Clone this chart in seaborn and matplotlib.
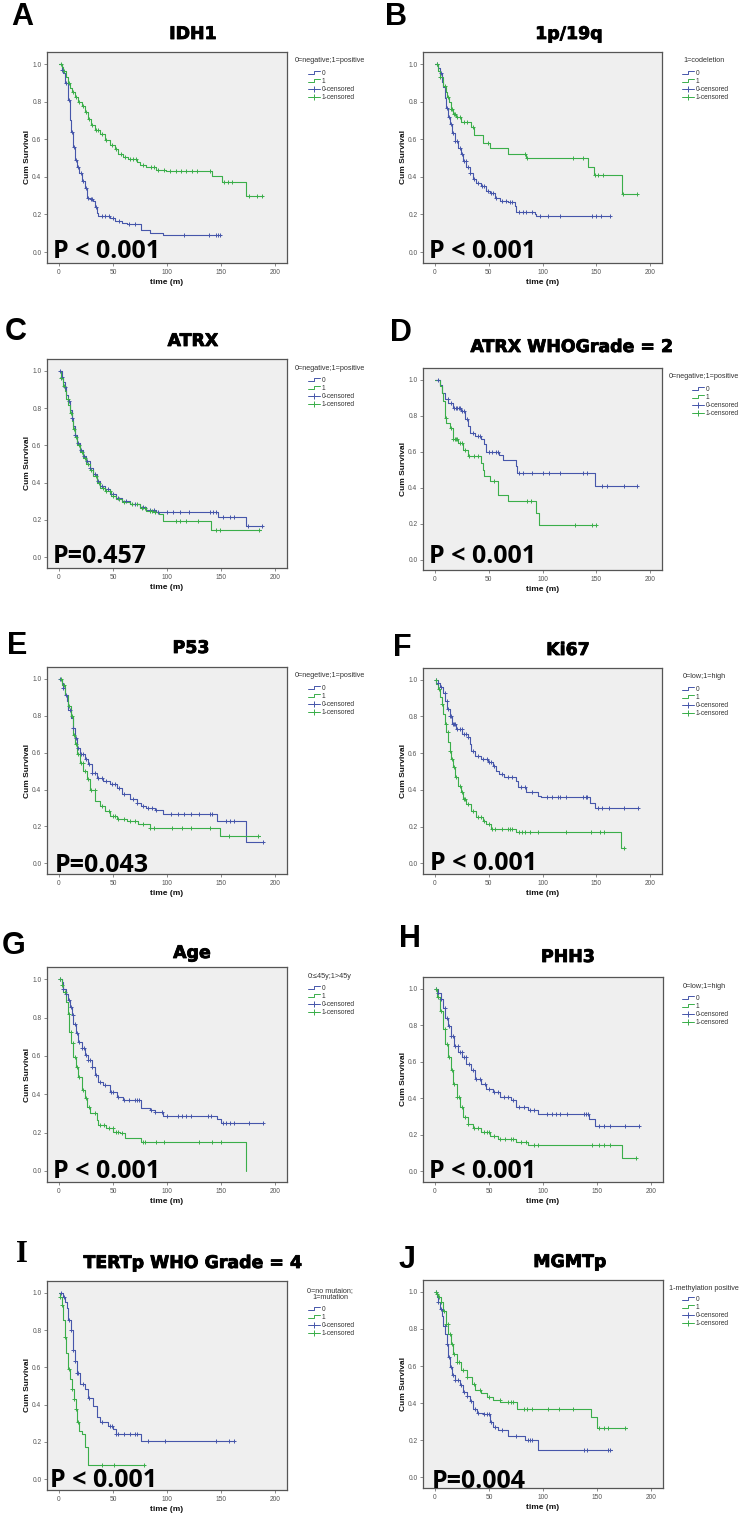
import numpy as np
import matplotlib.pyplot as plt
import matplotlib.patheffects as pe
import seaborn as sns
from matplotlib.lines import Line2D
from matplotlib.legend_handler import HandlerBase

sns.set_theme(style='white')
plt.rcParams['font.family'] = ['Liberation Sans', 'DejaVu Sans']

W, H = 748, 1524
BLUE = '#4656AA'
GREEN = '#3AAE4A'

# ---- survival curves: step times (months), survival after step, censor times ----
# A  IDH1
idh1_t0 = [0, 2.5, 4, 6, 8, 10, 11, 13, 15, 17, 19, 21, 24, 26, 29, 32, 33, 35, 36.5, 47, 52, 58, 63, 76, 84, 96.5, 150]
idh1_s0 = [1.0, 0.97, 0.95, 0.90, 0.81, 0.70, 0.64, 0.56, 0.49, 0.45, 0.42, 0.38, 0.34, 0.29, 0.28, 0.27, 0.24, 0.21, 0.19, 0.18, 0.165, 0.155, 0.147, 0.115, 0.103, 0.09, 0.09]
idh1_c0 = [3, 7, 9, 12, 14, 16, 18, 20, 22, 25, 27, 30, 31, 34, 40, 43, 46, 50, 56, 65, 70, 116, 139, 145, 147, 149]
idh1_t1 = [0, 2.5, 4, 7, 8.6, 10, 12, 15, 18, 21, 24, 27, 30, 33, 38, 42.5, 47, 52, 55, 59.5, 64, 72, 75, 81, 90, 99.5, 142, 150.5, 173.5, 189]
idh1_s1 = [1.0, 0.985, 0.965, 0.93, 0.90, 0.87, 0.85, 0.826, 0.80, 0.776, 0.746, 0.71, 0.675, 0.648, 0.63, 0.595, 0.568, 0.55, 0.524, 0.506, 0.497, 0.48, 0.462, 0.453, 0.435, 0.43, 0.405, 0.373, 0.30, 0.30]
idh1_c1 = [2, 5, 9, 13, 16, 19, 22, 25, 28, 31, 34, 36, 40, 44, 49, 53, 57, 61, 66, 69, 71, 78, 85, 88, 92, 97, 103, 108, 113, 118, 123, 128, 140, 153, 156, 160, 176, 183, 188]

# B  1p/19q
codel_t0 = [0, 3, 4.6, 6.2, 7.7, 9.3, 10.8, 12.3, 14, 16, 18.5, 21.6, 24, 26.2, 29.3, 32.4, 35.5, 38.6, 43.2, 47.8, 51, 55.6, 60.2, 68, 74, 75.6, 92.6, 94, 163]
codel_s0 = [1.0, 0.98, 0.952, 0.907, 0.876, 0.82, 0.767, 0.72, 0.68, 0.635, 0.59, 0.555, 0.52, 0.485, 0.45, 0.42, 0.39, 0.365, 0.353, 0.326, 0.312, 0.29, 0.273, 0.265, 0.247, 0.212, 0.203, 0.194, 0.194]
codel_c0 = [2, 6, 11, 13, 15, 17, 19, 21, 23, 25, 27, 29, 31, 33, 36, 40, 44, 46, 49, 52, 54, 57, 62, 66, 70, 72, 78, 82, 85, 90, 98, 105, 116, 146, 150, 154, 163]
codel_t1 = [0, 2.5, 4.6, 7.7, 10, 11.7, 13, 14.8, 17, 20, 24, 34, 36.4, 44.8, 51, 68, 85, 142, 148, 173.5, 188]
codel_s1 = [1.0, 0.965, 0.93, 0.885, 0.85, 0.824, 0.797, 0.762, 0.735, 0.718, 0.69, 0.665, 0.62, 0.58, 0.555, 0.52, 0.50, 0.45, 0.41, 0.31, 0.31]
codel_c1 = [2, 5, 9, 12, 15, 16, 18, 19, 21, 23, 27, 30, 35, 49, 84, 86, 128, 138, 149, 152, 156, 175, 188]

# C  ATRX
atrx_t0 = [0, 2.5, 4, 5.5, 7, 8.6, 10, 11.7, 13.2, 14.8, 17, 19.4, 22.5, 25.5, 28.6, 31.7, 34.8, 37.8, 42.5, 47, 53, 58, 65.5, 75, 81, 90, 147, 173, 188.6]
atrx_s0 = [1.0, 0.97, 0.943, 0.916, 0.872, 0.836, 0.79, 0.747, 0.703, 0.658, 0.614, 0.578, 0.542, 0.516, 0.48, 0.445, 0.41, 0.38, 0.365, 0.338, 0.32, 0.302, 0.288, 0.267, 0.253, 0.245, 0.218, 0.165, 0.165]
atrx_c0 = [1, 3, 6, 9, 12, 15, 18, 20, 23, 26, 29, 33, 36, 40, 45, 50, 55, 62, 70, 78, 84, 88, 92, 100, 106, 112, 120, 140, 143, 145, 152, 158, 162, 175, 188]
atrx_t1 = [0, 2, 4, 5.5, 7, 8.6, 10, 11.7, 13.2, 14.8, 17, 19.4, 22.5, 25.5, 28.6, 31.7, 35, 38, 43, 48, 53, 58, 66, 75, 81, 87, 93, 96, 141, 187]
atrx_s1 = [1.0, 0.96, 0.92, 0.89, 0.85, 0.815, 0.775, 0.73, 0.69, 0.645, 0.60, 0.565, 0.53, 0.50, 0.47, 0.435, 0.40, 0.37, 0.355, 0.33, 0.315, 0.298, 0.283, 0.262, 0.25, 0.24, 0.23, 0.196, 0.146, 0.146]
atrx_c1 = [2, 5, 8, 11, 14, 16, 19, 21, 24, 27, 30, 34, 37, 41, 44, 47, 50, 56, 60, 68, 72, 77, 80, 84, 86, 89, 108, 112, 118, 129, 145, 149, 185]

# D  ATRX, WHO grade 2
atrx2_t0 = [0, 4.6, 6.2, 9.2, 12.3, 17, 24.6, 27.7, 30.8, 32.3, 37, 43, 46, 47.7, 60, 63, 75, 76, 149, 188]
atrx2_s0 = [1.0, 0.972, 0.926, 0.89, 0.87, 0.843, 0.824, 0.778, 0.74, 0.704, 0.685, 0.667, 0.64, 0.60, 0.583, 0.555, 0.52, 0.48, 0.41, 0.41]
atrx2_c0 = [3, 12, 15, 18, 20, 21, 22, 23, 25, 27, 30, 35, 40, 42, 50, 53, 57, 59, 78, 82, 90, 100, 106, 116, 138, 141, 155, 160, 176, 188]
atrx2_t1 = [0, 4.6, 6.2, 7.7, 9.2, 10.8, 13.9, 17, 21.5, 26, 30.8, 43, 44.6, 46, 50.8, 58.5, 67.7, 93.8, 97, 150]
atrx2_s1 = [1.0, 0.963, 0.926, 0.88, 0.787, 0.76, 0.73, 0.667, 0.65, 0.61, 0.575, 0.537, 0.50, 0.463, 0.435, 0.36, 0.324, 0.26, 0.194, 0.194]
atrx2_c1 = [10, 15, 17, 19, 20, 21, 23, 25, 28, 32, 36, 40, 55, 86, 89, 130, 146, 150]

# E  P53
p53_t0 = [0, 2.5, 4, 5.5, 7.1, 8.6, 10.8, 12.6, 14.8, 17, 19.4, 24, 27, 30.2, 34.8, 41, 47, 53.3, 58, 65.6, 71.8, 76.4, 81, 88.8, 96.5, 145.8, 173.5, 189]
p53_s0 = [1.0, 0.977, 0.95, 0.914, 0.878, 0.833, 0.788, 0.734, 0.68, 0.626, 0.59, 0.563, 0.536, 0.491, 0.464, 0.446, 0.428, 0.41, 0.374, 0.347, 0.329, 0.31, 0.30, 0.288, 0.266, 0.23, 0.117, 0.117]
p53_c0 = [1, 4, 7, 10, 13, 16, 18, 20, 22, 25, 28, 31, 33, 36, 40, 44, 49, 52, 56, 60, 69, 72, 78, 82, 86, 90, 104, 110, 116, 122, 130, 140, 142, 155, 158, 162, 189]
p53_t1 = [0, 2.5, 5.5, 8.6, 10.8, 12.6, 14.8, 16.3, 19.4, 22.5, 25.6, 28.7, 33.3, 37.9, 42.5, 47, 53.3, 62.6, 73.3, 84, 148.8, 185.8]
p53_s1 = [1.0, 0.968, 0.914, 0.85, 0.797, 0.698, 0.644, 0.59, 0.545, 0.50, 0.455, 0.40, 0.338, 0.311, 0.284, 0.257, 0.24, 0.23, 0.212, 0.19, 0.146, 0.146]
p53_c1 = [2, 5, 9, 12, 14, 16, 18, 20, 22, 24, 27, 30, 33, 40, 46, 50, 52, 55, 60, 66, 70, 78, 84, 88, 105, 114, 122, 140, 157, 184]

# F  Ki67
ki67_t0 = [0, 3, 4.6, 7.7, 9.8, 11.7, 13.8, 16, 20, 25.2, 30.8, 32.3, 33.8, 37, 43, 49.2, 53.8, 56.9, 60, 64.6, 75.4, 77, 84.6, 95.4, 98.5, 144, 149, 189]
ki67_s0 = [1.0, 0.985, 0.958, 0.93, 0.886, 0.84, 0.804, 0.76, 0.73, 0.704, 0.686, 0.65, 0.613, 0.586, 0.568, 0.55, 0.53, 0.504, 0.486, 0.468, 0.45, 0.414, 0.387, 0.369, 0.36, 0.33, 0.30, 0.30]
ki67_c0 = [1, 3, 6, 9, 11, 12, 14, 15, 17, 18, 19, 21, 23, 25, 27, 29, 31, 35, 40, 45, 48, 50, 52, 55, 62, 68, 72, 80, 84, 90, 104, 109, 114, 116, 122, 138, 140, 141, 152, 155, 162, 176, 189]
ki67_t1 = [0, 1.5, 3, 4.6, 6.2, 7.7, 9.2, 10.8, 12.3, 13.8, 15.4, 17, 19, 21.5, 24, 26, 29.2, 33.8, 38.5, 44.6, 47.7, 52, 75.4, 173, 177]
ki67_s1 = [1.0, 0.976, 0.95, 0.904, 0.868, 0.813, 0.759, 0.714, 0.659, 0.613, 0.568, 0.523, 0.468, 0.423, 0.387, 0.35, 0.323, 0.287, 0.25, 0.232, 0.214, 0.187, 0.172, 0.082, 0.082]
ki67_c1 = [1, 4, 7, 10, 12, 14, 16, 18, 20, 23, 25, 27, 28, 31, 35, 40, 43, 46, 50, 53, 56, 62, 68, 70, 72, 78, 81, 84, 88, 96, 122, 145, 153, 157, 176]

# G  Age
age_t0 = [0, 2.5, 4, 6.2, 8, 10.2, 11.7, 13.3, 15.4, 17.9, 21, 24, 27, 30.2, 33.3, 36.4, 41, 47, 53.3, 59.5, 76.4, 84, 88.8, 96.5, 145.8, 149.8, 189]
age_s0 = [1.0, 0.986, 0.951, 0.925, 0.89, 0.856, 0.812, 0.769, 0.717, 0.674, 0.64, 0.604, 0.578, 0.543, 0.50, 0.465, 0.448, 0.413, 0.387, 0.37, 0.326, 0.318, 0.306, 0.288, 0.27, 0.248, 0.248]
age_c0 = [1, 4, 7, 9, 11, 13, 15, 17, 19, 21, 23, 25, 27, 29, 31, 34, 38, 43, 48, 50, 55, 60, 65, 70, 72, 74, 85, 89, 95, 100, 110, 114, 118, 122, 138, 141, 152, 155, 158, 162, 176, 189]
age_t1 = [0, 2.5, 4, 6.2, 8, 9.6, 11.1, 13.3, 15.4, 17.9, 21, 24, 26.2, 28.7, 34.8, 36.4, 44, 50.2, 56.4, 61, 76.4, 173.5]
age_s1 = [1.0, 0.969, 0.934, 0.882, 0.821, 0.726, 0.665, 0.595, 0.543, 0.491, 0.422, 0.378, 0.335, 0.30, 0.266, 0.24, 0.222, 0.205, 0.196, 0.17, 0.149, 0.0]
age_c1 = [1, 3, 6, 9, 11, 13, 15, 17, 19, 22, 25, 28, 33, 38, 42, 46, 50, 53, 55, 58, 78, 80, 90, 97, 130, 142, 150]

# H  PHH3
phh3_t0 = [0, 3, 5.5, 7.7, 9.8, 12.3, 14.8, 17.8, 21.5, 25.2, 29.2, 33.2, 37, 43, 47.7, 53.8, 60, 70.8, 75.4, 86, 95.4, 143, 148, 189]
phh3_s0 = [1.0, 0.978, 0.942, 0.897, 0.842, 0.797, 0.743, 0.688, 0.652, 0.625, 0.589, 0.553, 0.507, 0.48, 0.453, 0.435, 0.408, 0.39, 0.353, 0.335, 0.313, 0.286, 0.248, 0.248]
phh3_c0 = [1, 3, 6, 9, 11, 13, 15, 17, 19, 21, 23, 25, 27, 29, 32, 35, 38, 42, 46, 50, 55, 58, 64, 68, 72, 78, 82, 88, 92, 104, 108, 112, 116, 122, 138, 140, 142, 152, 156, 162, 176, 189]
phh3_t1 = [0, 1.5, 4.6, 7.7, 9.8, 12.3, 14.8, 17, 20, 23, 26, 30.8, 35.4, 43, 50.8, 58.5, 75.4, 86, 173, 186]
phh3_s1 = [1.0, 0.955, 0.879, 0.779, 0.697, 0.625, 0.553, 0.48, 0.408, 0.353, 0.30, 0.262, 0.235, 0.217, 0.194, 0.176, 0.163, 0.145, 0.072, 0.072]
phh3_c1 = [1, 3, 6, 9, 11, 13, 16, 18, 20, 22, 25, 28, 31, 36, 40, 45, 48, 50, 55, 60, 65, 70, 72, 80, 84, 92, 95, 145, 152, 156, 162, 186]

# I  TERTp, WHO grade 4
tert_t0 = [0, 4, 5.5, 7.7, 8.6, 10.8, 12.6, 14.8, 17, 19.4, 24, 27, 31.7, 34.8, 37.8, 45.5, 50, 52.6, 76.3, 162]
tert_s0 = [1.0, 0.979, 0.952, 0.917, 0.855, 0.80, 0.695, 0.633, 0.571, 0.51, 0.482, 0.438, 0.394, 0.332, 0.305, 0.287, 0.27, 0.24, 0.204, 0.204]
tert_c0 = [2, 5, 9, 11, 13, 15, 17, 18, 22, 28, 40, 47, 49, 53, 55, 60, 66, 70, 72, 82, 98, 145, 157, 162]
tert_t1 = [0, 1, 2.5, 4, 5.5, 7, 8.6, 10, 11.7, 13.8, 15.7, 17, 18.5, 21, 24.6, 27, 79.4]
tert_s1 = [1.0, 0.979, 0.933, 0.853, 0.764, 0.677, 0.589, 0.536, 0.482, 0.43, 0.376, 0.305, 0.26, 0.243, 0.172, 0.078, 0.078]
tert_c1 = [1, 3, 6, 9, 12, 14, 16, 17.5, 40, 51, 79]

# J  MGMTp
mgmt_t0 = [0, 1.5, 3, 4.6, 6.2, 7.7, 9.3, 10.8, 12.3, 13.9, 16, 19, 23, 26.2, 29.3, 32.4, 35.5, 38.6, 44.7, 51, 54, 58.6, 68, 83.3, 95.7, 163.6]
mgmt_s0 = [1.0, 0.973, 0.943, 0.907, 0.871, 0.818, 0.773, 0.72, 0.648, 0.595, 0.55, 0.523, 0.498, 0.461, 0.436, 0.411, 0.366, 0.348, 0.339, 0.30, 0.273, 0.255, 0.22, 0.20, 0.148, 0.148]
mgmt_c0 = [1, 3, 6, 9, 11, 13, 15, 17, 19, 21, 24, 27, 30, 33, 37, 40, 45, 48, 50, 52, 56, 62, 75, 86, 88, 90, 138, 141, 160, 162]
mgmt_t1 = [0, 1.5, 3, 5.2, 7.7, 9.9, 12.3, 14.8, 17, 20, 24, 29.3, 34, 37, 43, 47.8, 54, 60.2, 75.6, 144.4, 149.7, 178]
mgmt_s1 = [1.0, 0.988, 0.97, 0.943, 0.898, 0.827, 0.773, 0.72, 0.666, 0.621, 0.577, 0.541, 0.505, 0.47, 0.455, 0.434, 0.416, 0.407, 0.366, 0.327, 0.268, 0.268]
mgmt_c1 = [1, 2, 4, 6, 8, 10, 12, 14, 16, 18, 20, 22, 26, 30, 36, 42, 50, 60, 68, 70, 72, 82, 85, 90, 105, 115, 128, 152, 156, 160, 176]

letters = ['A', 'B', 'C', 'D', 'E', 'F', 'G', 'H', 'I', 'J']
titles = ['IDH1', '1p/19q', 'ATRX', 'ATRX WHOGrade = 2', 'P53', 'Ki67', 'Age', 'PHH3',
          'TERTp WHO Grade = 4', 'MGMTp']
legend_titles = ['0=negative;1=positive', '1=codeletion', '0=negative;1=positive',
                 '0=negative;1=positive', '0=negetive;1=positive', '0=low;1=high',
                 '0:\u226445y;1>45y', '0=low;1=high', '0=no mutaion;\n1=mutation',
                 '1-methylation positive']
p_labels = ['P < 0.001', 'P < 0.001', 'P=0.457', 'P < 0.001', 'P=0.043', 'P < 0.001',
            'P < 0.001', 'P < 0.001', 'P < 0.001', 'P=0.004']
curves = [
    (idh1_t0, idh1_s0, idh1_c0, idh1_t1, idh1_s1, idh1_c1),
    (codel_t0, codel_s0, codel_c0, codel_t1, codel_s1, codel_c1),
    (atrx_t0, atrx_s0, atrx_c0, atrx_t1, atrx_s1, atrx_c1),
    (atrx2_t0, atrx2_s0, atrx2_c0, atrx2_t1, atrx2_s1, atrx2_c1),
    (p53_t0, p53_s0, p53_c0, p53_t1, p53_s1, p53_c1),
    (ki67_t0, ki67_s0, ki67_c0, ki67_t1, ki67_s1, ki67_c1),
    (age_t0, age_s0, age_c0, age_t1, age_s1, age_c1),
    (phh3_t0, phh3_s0, phh3_c0, phh3_t1, phh3_s1, phh3_c1),
    (tert_t0, tert_s0, tert_c0, tert_t1, tert_s1, tert_c1),
    (mgmt_t0, mgmt_s0, mgmt_c0, mgmt_t1, mgmt_s1, mgmt_c1),
]

# ---- layout in pixels (left, top, width, height) ----
axes_px = [(47, 52, 240, 211), (423, 52, 239, 211), (47, 359, 240, 209), (423, 368, 239, 202),
           (47, 667, 240, 207), (423, 668, 239, 206), (47, 967, 240, 215), (423, 977, 240, 205),
           (47, 1281, 240, 209), (423, 1280, 240, 208)]
letter_px = [(22, 17), (396, 17), (16, 332), (401, 333), (17, 646), (402, 648), (14, 946),
             (410, 939), (22, 1254), (407, 1260)]
title_px = [(193, 39), (569, 39), (193, 346), (572, 352), (191, 653), (568, 655), (192, 958),
            (568, 962), (193, 1268), (570, 1267)]
p_pos = [(0.025, 0.024), (0.025, 0.024), (0.025, 0.024), (0.025, 0.035), (0.033, 0.01),
         (0.03, 0.02), (0.025, 0.02), (0.025, 0.02), (0.0125, 0.015), (0.037, 0.0)]


def fig_xy(x, y):
    return x / W, 1 - y / H


class StepHandler(HandlerBase):
    def create_artists(self, legend, orig_handle, xdescent, ydescent, width, height, fontsize, trans):
        x0, y0 = -xdescent, -ydescent
        xm = x0 + 0.5 * width
        line = Line2D([x0, xm, xm, x0 + width],
                      [y0 + 0.15 * height, y0 + 0.15 * height, y0 + 0.85 * height, y0 + 0.85 * height],
                      color=orig_handle.get_color(), lw=0.7)
        line.set_transform(trans)
        return [line]


def km_at(t, s, c):
    idx = np.searchsorted(np.array(t), np.array(c), side='right') - 1
    return np.array(s)[idx]


fig = plt.figure(figsize=(W / 100, H / 100), dpi=100)
fig.patch.set_facecolor('white')
heavy = [pe.Stroke(linewidth=0.6, foreground='black'), pe.Normal()]

for i in range(10):
    l, tp, w, h = axes_px[i]
    ax = fig.add_axes([l / W, 1 - (tp + h) / H, w / W, h / H])
    ax.set_facecolor('#EFEFEF')
    t0, s0, c0, t1, s1, c1 = curves[i]
    for t, s, c, col in [(t0, s0, c0, BLUE), (t1, s1, c1, GREEN)]:
        sns.lineplot(x=t, y=s, drawstyle='steps-post', color=col, lw=0.8,
                     estimator=None, sort=False, ax=ax)
        sns.scatterplot(x=c, y=km_at(t, s, c), marker='+', color=col, s=9,
                        linewidth=0.7, ax=ax, zorder=3)
    ax.set_xlim(-11, 211)
    ax.set_ylim(-0.058, 1.064)
    ax.set_xticks([0, 50, 100, 150, 200])
    ax.set_yticks([0, 0.2, 0.4, 0.6, 0.8, 1.0])
    ax.set_yticklabels(['0.0', '0.2', '0.4', '0.6', '0.8', '1.0'])
    ax.tick_params(bottom=True, left=True, direction='out', length=2.5, width=0.6,
                   color='#777777', labelsize=4.8, labelcolor='#555555', pad=1.5)
    for sp in ax.spines.values():
        sp.set_color('#555555')
        sp.set_linewidth(0.9)
    ax.set_xlabel('time (m)', fontsize=6, fontweight='bold', color='#111111')
    ax.set_ylabel('Cum Survival', fontsize=6, fontweight='bold', color='#111111')
    ax.xaxis.set_label_coords(0.5, -16 / h)
    ax.yaxis.set_label_coords(-16 / w, 0.5)
    ax.text(p_pos[i][0], p_pos[i][1], p_labels[i], transform=ax.transAxes, fontsize=18,
            fontweight='bold', family=['Open Sans', 'DejaVu Sans'], va='baseline',
            color='black', zorder=5)

    col_x = 0 if i % 2 == 0 else 374
    # legend title
    ty = tp + (13 if i == 8 else (8 if i == 9 else 9))
    fig.text(*fig_xy(col_x + 330, ty), legend_titles[i], fontsize=5.2, color='#333333',
             ha='center', va='center', linespacing=1.1)
    ey = tp + (29 if i == 8 else (20 if i == 9 else 22))
    ex = col_x + (318 if i == 3 else 308)
    handles = [Line2D([], [], color=BLUE), Line2D([], [], color=GREEN),
               Line2D([], [], color=BLUE, lw=0.7, marker='+', markersize=4, markeredgewidth=0.7),
               Line2D([], [], color=GREEN, lw=0.7, marker='+', markersize=4, markeredgewidth=0.7)]
    ax.legend(handles, ['0', '1', '0-censored', '1-censored'],
              handler_map={handles[0]: StepHandler(), handles[1]: StepHandler()},
              loc='upper left', bbox_to_anchor=fig_xy(ex, ey - 4), bbox_transform=fig.transFigure,
              frameon=False, borderpad=0, borderaxespad=0, handlelength=1.8, handletextpad=0.3,
              labelspacing=0.15, fontsize=4.8, numpoints=1, labelcolor='#333333')

    # panel letter and title
    fam = ['Liberation Serif', 'DejaVu Serif'] if letters[i] == 'I' else ['Liberation Sans', 'DejaVu Sans']
    fig.text(*fig_xy(*letter_px[i]), letters[i], fontsize=22, fontweight='bold', family=fam,
             ha='center', va='center', color='black')
    fig.text(*fig_xy(*title_px[i]), titles[i], fontsize=12.5, fontweight='bold',
             family=['DejaVu Sans'], ha='center', va='baseline', color='black',
             path_effects=heavy)

fig.savefig('out.png', dpi=100)
